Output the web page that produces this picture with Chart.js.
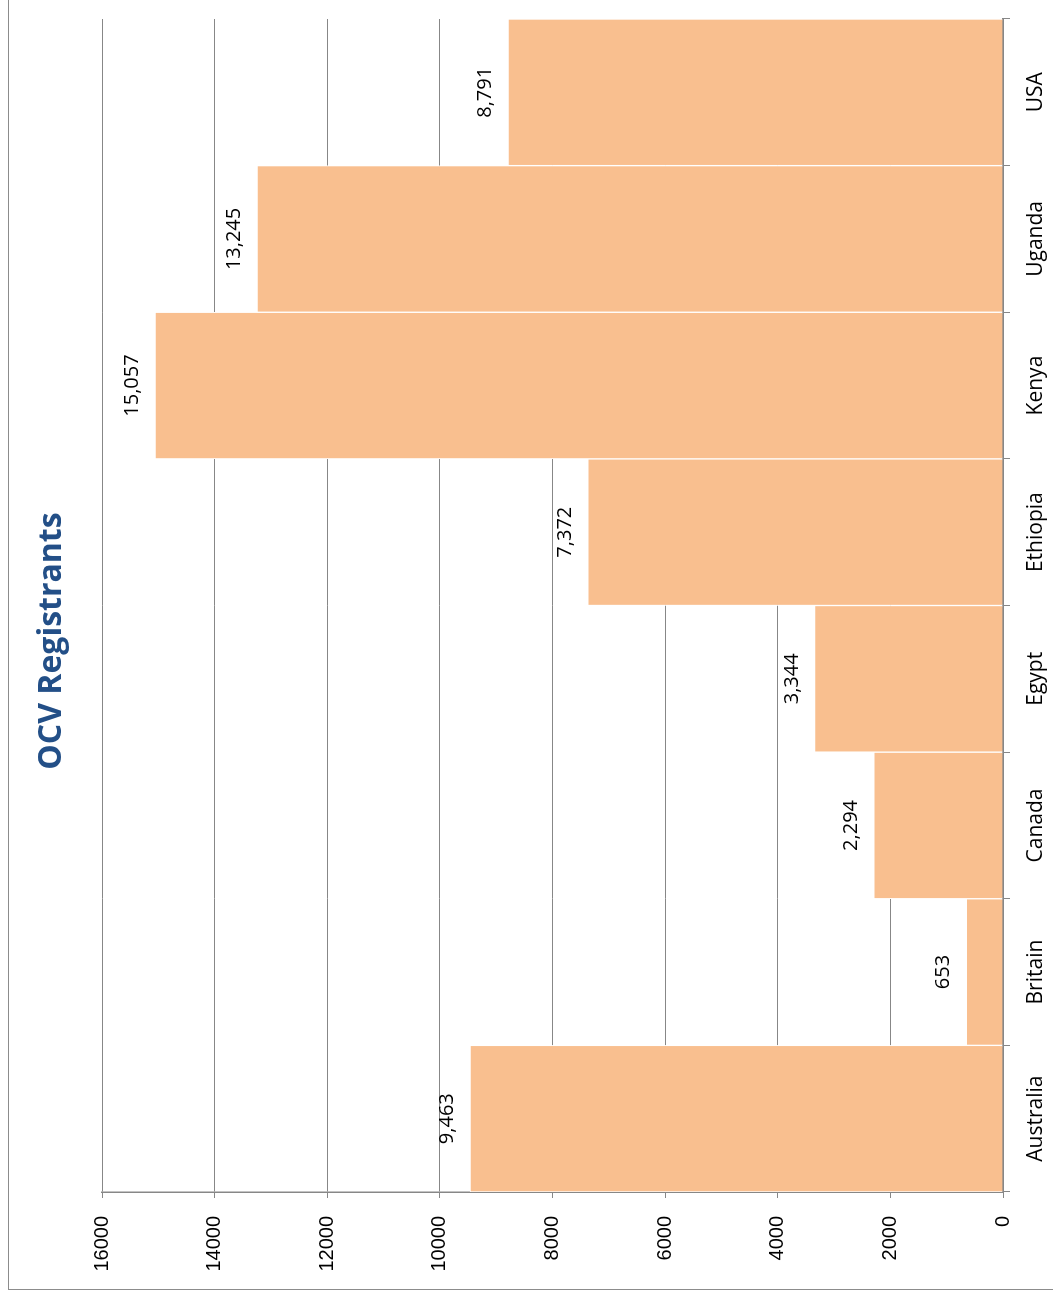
<!DOCTYPE html>
<html>
<head>
<meta charset="utf-8">
<script src="https://cdn.jsdelivr.net/npm/chart.js@4/dist/chart.umd.min.js"></script>
<style>
  html, body { margin: 0; padding: 0; background: #fff; overflow: hidden; }
  body { width: 1053px; height: 1297px; position: relative; }
  /* the chart is laid out as a normal column chart, then turned a quarter turn */
  #turn {
    position: absolute; left: 0; top: 0;
    width: 1297px; height: 1053px;
    transform-origin: 0 0;
    transform: translate(0, 1297px) rotate(-90deg);
  }
  #frame {
    position: absolute; left: 7px; top: 8px; right: -20px; bottom: -20px;
    border: 1.5px solid #8c8c8c;
  }
  #myChart { position: absolute; left: 0; top: 0; }
</style>
</head>
<body>
<div id="turn">
  <div id="frame"></div>
  <canvas id="myChart" width="1297" height="1053"></canvas>
</div>
<script>
// countries and registrant counts
var chartTitle = 'OCV Registrants';
var countries = ['Australia', 'Britain', 'Canada', 'Egypt', 'Ethiopia', 'Kenya', 'Uganda', 'USA'];
var registrants = [9463, 653, 2294, 3344, 7372, 15057, 13245, 8791];
var valueTicks = [0, 2000, 4000, 6000, 8000, 10000, 12000, 14000, 16000];

var gridGray = '#878787';

// value labels above each bar, plus the title (centred on the whole frame, not the plot)
var barLabels = {
  id: 'barLabels',
  afterDatasetsDraw: function (chart) {
    var ctx = chart.ctx;
    var meta = chart.getDatasetMeta(0);
    ctx.save();
    ctx.font = '20px "Open Sans"';
    ctx.fillStyle = '#000';
    ctx.textAlign = 'center';
    ctx.textBaseline = 'alphabetic';
    meta.data.forEach(function (bar, i) {
      ctx.fillText(registrants[i].toLocaleString('en-US'), bar.x, bar.y - 17);
    });

    ctx.font = 'bold 32px "Open Sans"';
    ctx.fillStyle = '#234F87';
    ctx.textBaseline = 'middle';
    ctx.fillText(chartTitle, 656, 52);
    ctx.restore();
  }
};

document.addEventListener('DOMContentLoaded', function () {
  var ctx = document.getElementById('myChart').getContext('2d');
  new Chart(ctx, {
    type: 'bar',
    data: {
      labels: countries,
      datasets: [{
        data: registrants,
        backgroundColor: '#F9BF8F',
        borderColor: '#ffffff',
        borderWidth: 1,
        borderSkipped: 'bottom',
        barPercentage: 1,
        categoryPercentage: 1
      }]
    },
    options: {
      responsive: false,
      animation: false,
      devicePixelRatio: 1,
      layout: { padding: { left: 0, right: 19, top: 102, bottom: 0 } },
      plugins: {
        legend: { display: false },
        tooltip: { enabled: false },
        title: { display: false }
      },
      scales: {
        x: {
          offset: true,
          grid: { display: true, drawOnChartArea: false, offset: true, tickLength: 7, color: gridGray },
          border: { color: gridGray, width: 2 },
          ticks: { color: '#000', padding: 13, font: { family: '"Open Sans"', size: 21 }, maxRotation: 0 },
          afterFit: function (scale) { scale.height = 50; }
        },
        y: {
          min: 0,
          max: 16000,
          afterBuildTicks: function (scale) {
            scale.ticks = valueTicks.map(function (v) { return { value: v }; });
          },
          grid: { color: gridGray, tickLength: 6 },
          border: { color: gridGray, width: 1.5 },
          ticks: {
            color: '#000', padding: 18,
            font: { family: '"Liberation Sans"', size: 20 },
            callback: function (v) { return String(v); }
          },
          afterFit: function (scale) { scale.width = 105; }
        }
      }
    },
    plugins: [barLabels]
  });
});
</script>
</body>
</html>
